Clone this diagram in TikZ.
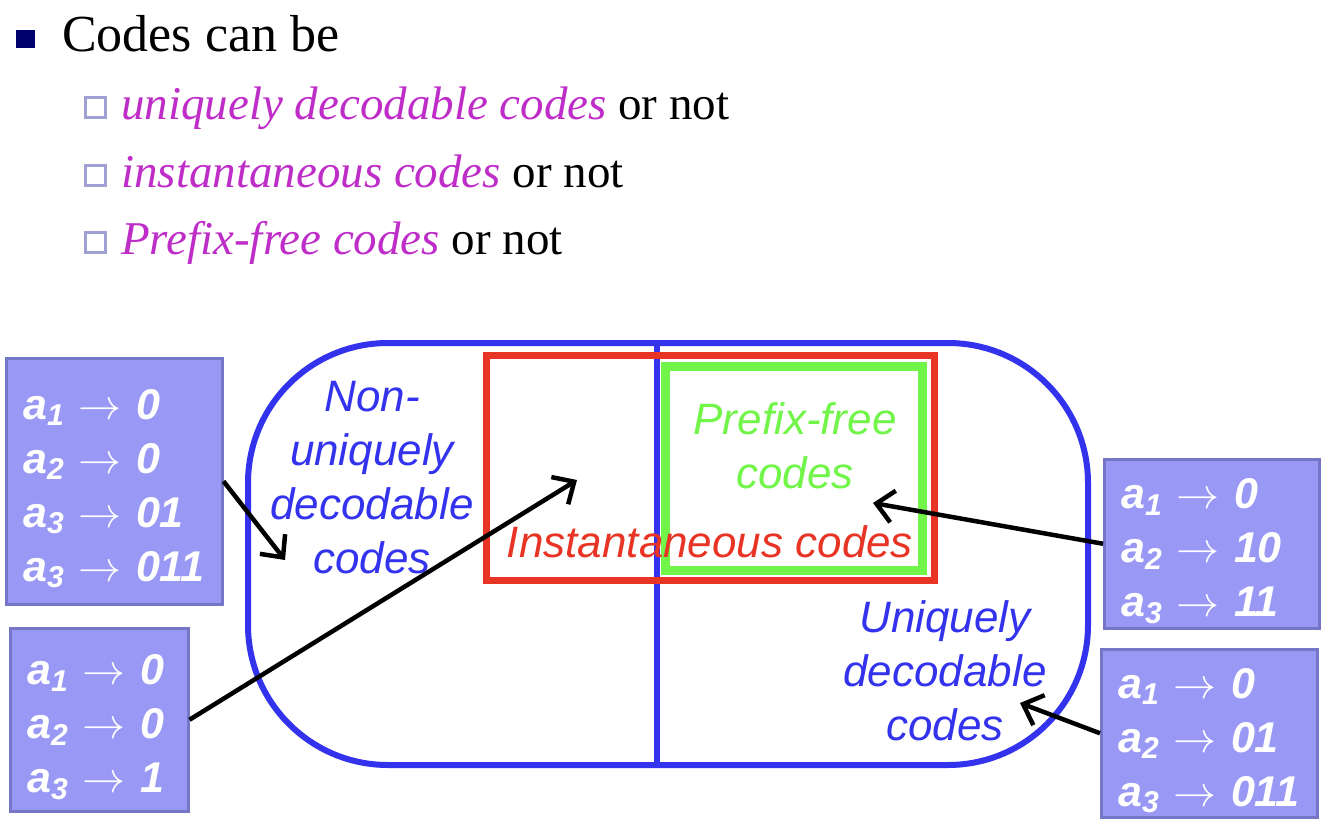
\RequirePackage{fix-cm}
\documentclass[tikz,border=0pt]{standalone}
\usepackage{fontspec}
\setmainfont{Liberation Serif}
\setsansfont{Liberation Sans}
\usetikzlibrary{arrows.meta}
\definecolor{setblue}{RGB}{51,51,238}
\definecolor{setred}{RGB}{232,52,36}
\definecolor{setgreen}{RGB}{112,245,72}
\definecolor{boxfill}{RGB}{153,153,245}
\definecolor{boxline}{RGB}{118,118,200}
\definecolor{itemmag}{RGB}{190,45,200}
\definecolor{bulnavy}{RGB}{0,0,110}
\definecolor{bulgray}{RGB}{160,160,210}
\newcommand{\codeword}[2]{a\textsubscript{#1} $\rightarrow$ #2}
\newcommand{\toprow}{\rule{0pt}{45pt}}
\tikzset{
  setlbl/.style={font=\sffamily\itshape\fontsize{44}{54}\selectfont, align=center, inner sep=0pt, anchor=base},
  codebox/.style={draw=boxline, fill=boxfill, line width=2.5pt, text=white,
    font=\sffamily\bfseries\itshape\fontsize{43}{54}\selectfont, align=left,
    inner xsep=17pt, inner ysep=0pt, anchor=north west},
  arr/.style={line width=4.5pt, -{Straight Barb[length=17pt,width=32pt]}},
}
\begin{document}
\begin{tikzpicture}[x=1pt,y=-1pt]
    \useasboundingbox (0,0) rectangle (1330,826);
    %列表;
        \fill [bulnavy] (16,30) rectangle (35,48);
        \node [anchor=base west, inner sep=0pt, font=\fontsize{52}{60}\selectfont] (title) at (62,52) {Codes can be};
        \foreach \yy/\txt [count=\i] in {120/uniquely decodable codes, 188/instantaneous codes, 255/Prefix-free codes}{
            \draw [bulgray, line width=3pt] (85,\yy-22) rectangle (105,\yy-2);
            \node [anchor=base west, inner sep=0pt, font=\fontsize{47}{54}\selectfont] (item\i) at (121,\yy) {\textcolor{itemmag}{\itshape\txt} or not};
        }
    %集合
        \draw [setblue, line width=6pt, rounded corners=140pt] (248,343) rectangle (1088,765);
        \draw [setblue, line width=6pt] (657,343) -- (657,765);
        \draw [setred, line width=7pt] (486,355) rectangle (934,580);
        \draw [setgreen, line width=9pt] (665,366) rectangle (922,570);
        \node [setlbl, text=setblue] (nonud) at (372,573) {Non-\\uniquely\\decodable\\codes};
        \node [setlbl, text=setgreen] (pfree) at (795,488) {Prefix-free\\codes};
        \node [setlbl, text=setred] (inst) at (710,557) {Instantaneous codes};
        \node [setlbl, text=setblue] (ud) at (945,740) {Uniquely\\decodable\\codes};
    %码表
        \node [codebox, text width=182pt, minimum height=246pt] (c1) at (5,357) {\toprow\codeword{1}{0}\\\codeword{2}{0}\\\codeword{3}{01}\\\codeword{3}{011}};
        \node [codebox, text width=144pt, minimum height=183pt] (c2) at (9,627) {\toprow\codeword{1}{0}\\\codeword{2}{0}\\\codeword{3}{1}};
        \node [codebox, text width=181pt, minimum height=169pt] (c3) at (1103,458) {\toprow\codeword{1}{0}\\\codeword{2}{10}\\\codeword{3}{11}};
        \node [codebox, text width=182pt, minimum height=168pt] (c4) at (1100,648) {\toprow\codeword{1}{0}\\\codeword{2}{01}\\\codeword{3}{011}};
    %箭头
        \coordinate (t1) at (285,560);
        \coordinate (t2) at (577,480);
        \coordinate (t3) at (873,503);
        \coordinate (t4) at (1020,703);
        \draw [arr] (c1.east) -- (t1);
        \draw [arr] (c2.east) -- (t2);
        \draw [arr] (c3.west) -- (t3);
        \draw [arr] (c4.west) -- (t4);
\end{tikzpicture}
\end{document}
